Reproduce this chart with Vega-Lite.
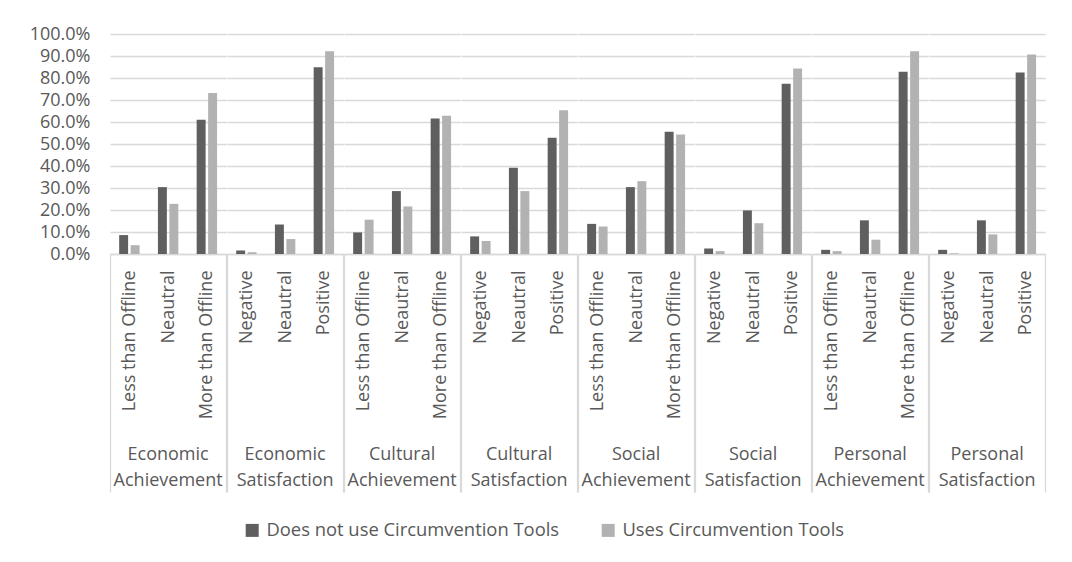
{
  "$schema": "https://vega.github.io/schema/vega-lite/v6.json",
  "background": "white",
  "padding": {"left": 29, "top": 25, "right": 20, "bottom": 5},
  "bounds": "flush",
  "config": {
    "font": "Open Sans",
    "view": {"stroke": null},
    "axis": {"labelFont": "Open Sans", "labelFontSize": 18, "labelColor": "#595959"}
  },
  "data": {
    "values": [
      {"domain": "Economic Achievement", "response": "Less than Offline", "group": "Does not use Circumvention Tools", "share": 0.086},
      {"domain": "Economic Achievement", "response": "Less than Offline", "group": "Uses Circumvention Tools", "share": 0.040},
      {"domain": "Economic Achievement", "response": "Neautral", "group": "Does not use Circumvention Tools", "share": 0.304},
      {"domain": "Economic Achievement", "response": "Neautral", "group": "Uses Circumvention Tools", "share": 0.228},
      {"domain": "Economic Achievement", "response": "More than Offline", "group": "Does not use Circumvention Tools", "share": 0.610},
      {"domain": "Economic Achievement", "response": "More than Offline", "group": "Uses Circumvention Tools", "share": 0.732},
      {"domain": "Economic Satisfaction", "response": "Negative", "group": "Does not use Circumvention Tools", "share": 0.016},
      {"domain": "Economic Satisfaction", "response": "Negative", "group": "Uses Circumvention Tools", "share": 0.008},
      {"domain": "Economic Satisfaction", "response": "Neautral", "group": "Does not use Circumvention Tools", "share": 0.134},
      {"domain": "Economic Satisfaction", "response": "Neautral", "group": "Uses Circumvention Tools", "share": 0.068},
      {"domain": "Economic Satisfaction", "response": "Positive", "group": "Does not use Circumvention Tools", "share": 0.849},
      {"domain": "Economic Satisfaction", "response": "Positive", "group": "Uses Circumvention Tools", "share": 0.922},
      {"domain": "Cultural Achievement", "response": "Less than Offline", "group": "Does not use Circumvention Tools", "share": 0.098},
      {"domain": "Cultural Achievement", "response": "Less than Offline", "group": "Uses Circumvention Tools", "share": 0.156},
      {"domain": "Cultural Achievement", "response": "Neautral", "group": "Does not use Circumvention Tools", "share": 0.286},
      {"domain": "Cultural Achievement", "response": "Neautral", "group": "Uses Circumvention Tools", "share": 0.216},
      {"domain": "Cultural Achievement", "response": "More than Offline", "group": "Does not use Circumvention Tools", "share": 0.616},
      {"domain": "Cultural Achievement", "response": "More than Offline", "group": "Uses Circumvention Tools", "share": 0.628},
      {"domain": "Cultural Satisfaction", "response": "Negative", "group": "Does not use Circumvention Tools", "share": 0.080},
      {"domain": "Cultural Satisfaction", "response": "Negative", "group": "Uses Circumvention Tools", "share": 0.059},
      {"domain": "Cultural Satisfaction", "response": "Neautral", "group": "Does not use Circumvention Tools", "share": 0.392},
      {"domain": "Cultural Satisfaction", "response": "Neautral", "group": "Uses Circumvention Tools", "share": 0.286},
      {"domain": "Cultural Satisfaction", "response": "Positive", "group": "Does not use Circumvention Tools", "share": 0.528},
      {"domain": "Cultural Satisfaction", "response": "Positive", "group": "Uses Circumvention Tools", "share": 0.653},
      {"domain": "Social Achievement", "response": "Less than Offline", "group": "Does not use Circumvention Tools", "share": 0.137},
      {"domain": "Social Achievement", "response": "Less than Offline", "group": "Uses Circumvention Tools", "share": 0.125},
      {"domain": "Social Achievement", "response": "Neautral", "group": "Does not use Circumvention Tools", "share": 0.304},
      {"domain": "Social Achievement", "response": "Neautral", "group": "Uses Circumvention Tools", "share": 0.331},
      {"domain": "Social Achievement", "response": "More than Offline", "group": "Does not use Circumvention Tools", "share": 0.556},
      {"domain": "Social Achievement", "response": "More than Offline", "group": "Uses Circumvention Tools", "share": 0.543},
      {"domain": "Social Satisfaction", "response": "Negative", "group": "Does not use Circumvention Tools", "share": 0.025},
      {"domain": "Social Satisfaction", "response": "Negative", "group": "Uses Circumvention Tools", "share": 0.013},
      {"domain": "Social Satisfaction", "response": "Neautral", "group": "Does not use Circumvention Tools", "share": 0.198},
      {"domain": "Social Satisfaction", "response": "Neautral", "group": "Uses Circumvention Tools", "share": 0.140},
      {"domain": "Social Satisfaction", "response": "Positive", "group": "Does not use Circumvention Tools", "share": 0.774},
      {"domain": "Social Satisfaction", "response": "Positive", "group": "Uses Circumvention Tools", "share": 0.843},
      {"domain": "Personal Achievement", "response": "Less than Offline", "group": "Does not use Circumvention Tools", "share": 0.019},
      {"domain": "Personal Achievement", "response": "Less than Offline", "group": "Uses Circumvention Tools", "share": 0.013},
      {"domain": "Personal Achievement", "response": "Neautral", "group": "Does not use Circumvention Tools", "share": 0.153},
      {"domain": "Personal Achievement", "response": "Neautral", "group": "Uses Circumvention Tools", "share": 0.065},
      {"domain": "Personal Achievement", "response": "More than Offline", "group": "Does not use Circumvention Tools", "share": 0.828},
      {"domain": "Personal Achievement", "response": "More than Offline", "group": "Uses Circumvention Tools", "share": 0.922},
      {"domain": "Personal Satisfaction", "response": "Negative", "group": "Does not use Circumvention Tools", "share": 0.019},
      {"domain": "Personal Satisfaction", "response": "Negative", "group": "Uses Circumvention Tools", "share": 0.003},
      {"domain": "Personal Satisfaction", "response": "Neautral", "group": "Does not use Circumvention Tools", "share": 0.153},
      {"domain": "Personal Satisfaction", "response": "Neautral", "group": "Uses Circumvention Tools", "share": 0.089},
      {"domain": "Personal Satisfaction", "response": "Positive", "group": "Does not use Circumvention Tools", "share": 0.825},
      {"domain": "Personal Satisfaction", "response": "Positive", "group": "Uses Circumvention Tools", "share": 0.907}
    ]
  },
  "facet": {
    "column": {
      "field": "domain",
      "type": "nominal",
      "sort": ["Economic Achievement", "Economic Satisfaction", "Cultural Achievement", "Cultural Satisfaction", "Social Achievement", "Social Satisfaction", "Personal Achievement", "Personal Satisfaction"],
      "title": null,
      "header": {
        "labelOrient": "bottom",
        "labelExpr": "split(datum.value, ' ')",
        "labelFont": "Open Sans",
        "labelFontSize": 18,
        "labelColor": "#595959",
        "labelLineHeight": 26,
        "labelBaseline": "top",
        "labelPadding": 192
      }
    }
  },
  "spacing": 0,
  "resolve": {"scale": {"x": "independent", "xOffset": "independent"}},
  "spec": {
    "width": 116.25,
    "height": 220,
    "mark": {"type": "bar"},
    "encoding": {
      "x": {
        "field": "response",
        "type": "nominal",
        "sort": ["Less than Offline", "Negative", "Neautral", "More than Offline", "Positive"],
        "scale": {"paddingInner": 0, "paddingOuter": 0},
        "axis": {
          "title": null,
          "labelAngle": -90,
          "labelPadding": -222,
          "tickBand": "extent",
          "tickSize": 238,
          "tickWidth": 1.3,
          "tickColor": {
            "condition": {"test": "datum.extra || datum.value === 'Positive' || datum.value === 'More than Offline'", "value": "#d9d9d9"},
            "value": "transparent"
          },
          "domainColor": "#d9d9d9",
          "domainWidth": 1.3
        }
      },
      "xOffset": {
        "field": "group",
        "sort": ["Does not use Circumvention Tools", "Uses Circumvention Tools"],
        "scale": {"paddingInner": 0.22, "paddingOuter": 0.8}
      },
      "y": {
        "field": "share",
        "type": "quantitative",
        "scale": {"domain": [0, 1], "nice": false},
        "axis": {
          "title": null,
          "format": ".1%",
          "values": [0, 0.1, 0.2, 0.3, 0.4, 0.5, 0.6, 0.7, 0.8, 0.9, 1],
          "domain": false,
          "ticks": false,
          "labelPadding": 20,
          "gridColor": "#d9d9d9",
          "gridWidth": 1.3
        }
      },
      "color": {
        "field": "group",
        "type": "nominal",
        "scale": {
          "domain": ["Does not use Circumvention Tools", "Uses Circumvention Tools"],
          "range": ["#5f5f5f", "#b2b2b2"]
        },
        "legend": {
          "title": null,
          "orient": "none",
          "legendX": 133,
          "legendY": 487,
          "direction": "horizontal",
          "symbolType": "square",
          "symbolSize": 169,
          "symbolStrokeWidth": 0,
          "labelFont": "Open Sans",
          "labelFontSize": 18.4,
          "labelColor": "#595959",
          "labelLimit": 400,
          "labelOffset": 5,
          "columnPadding": 39
        }
      }
    }
  }
}
